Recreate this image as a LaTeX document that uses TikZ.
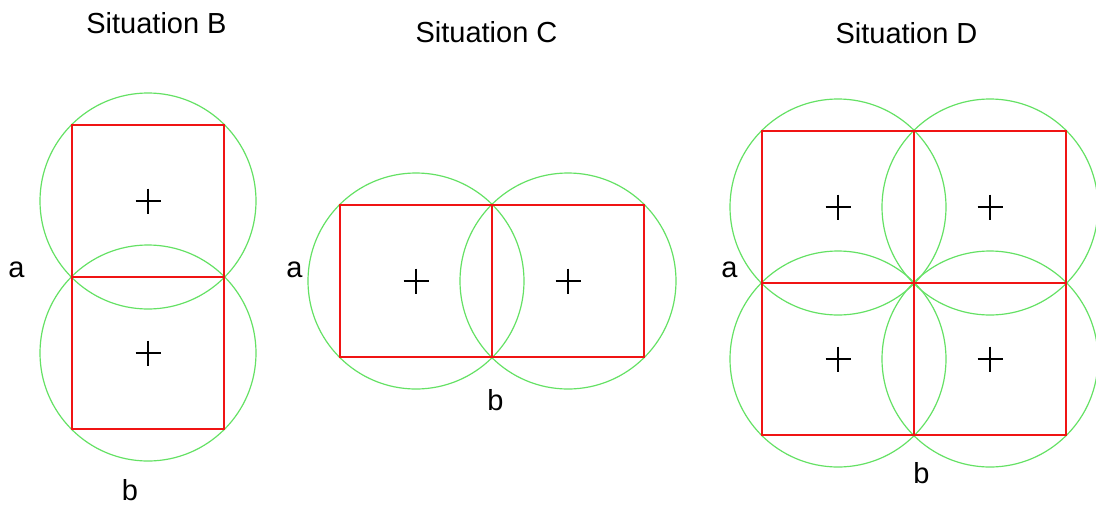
\documentclass[tikz,border=0pt]{standalone}
\usepackage{fontspec}
\setmainfont{Liberation Sans}
\usepackage{tikz}
\definecolor{cellred}{RGB}{240,20,20}
\definecolor{reachgreen}{RGB}{100,225,100}

% cross at the centre of a cell
\newcommand{\cellcross}[1]{\draw[line width=1.4pt] (#1.center) +(-12.5,0) -- +(12.5,0) (#1.center) +(0,-12.5) -- +(0,12.5);}

\begin{document}
\begin{tikzpicture}[x=1pt, y=-1pt,
    cell/.style={rectangle, draw=cellred, line width=2pt, minimum size=152pt, inner sep=0pt},
    reach/.style={circle, draw=reachgreen, line width=1.2pt, minimum size=216pt, inner sep=0pt},
    txt/.style={font=\fontsize{29}{34}\selectfont, anchor=base, inner sep=0pt},
]
\useasboundingbox (0,0) rectangle (1096,507);

% Situation B
\node[txt] (titleB) at (156.5,33) {Situation B};
\node[reach] (rb1) at (148,201) {};
\node[reach] (rb2) at (148,353) {};
\node[cell] (b1) at (148,201) {};
\node[cell] (b2) at (148,353) {};
\cellcross{b1}
\cellcross{b2}
\node[txt] (aB) at (16.5,277) {a};
\node[txt] (bB) at (130,500) {b};

% Situation C
\node[txt] (titleC) at (486.5,42) {Situation C};
\node[reach] (rc1) at (416,281) {};
\node[reach] (rc2) at (568,281) {};
\node[cell] (c1) at (416,281) {};
\node[cell] (c2) at (568,281) {};
\cellcross{c1}
\cellcross{c2}
\node[txt] (aC) at (294.5,277) {a};
\node[txt] (bC) at (495.5,410) {b};

% Situation D
\node[txt] (titleD) at (906.5,43) {Situation D};
\node[reach] (rd1) at (838,207) {};
\node[reach] (rd2) at (990,207) {};
\node[reach] (rd3) at (838,359) {};
\node[reach] (rd4) at (990,359) {};
\node[cell] (d1) at (838,207) {};
\node[cell] (d2) at (990,207) {};
\node[cell] (d3) at (838,359) {};
\node[cell] (d4) at (990,359) {};
\cellcross{d1}
\cellcross{d2}
\cellcross{d3}
\cellcross{d4}
\node[txt] (aD) at (729.5,277) {a};
\node[txt] (bD) at (921.5,483) {b};

\end{tikzpicture}
\end{document}
